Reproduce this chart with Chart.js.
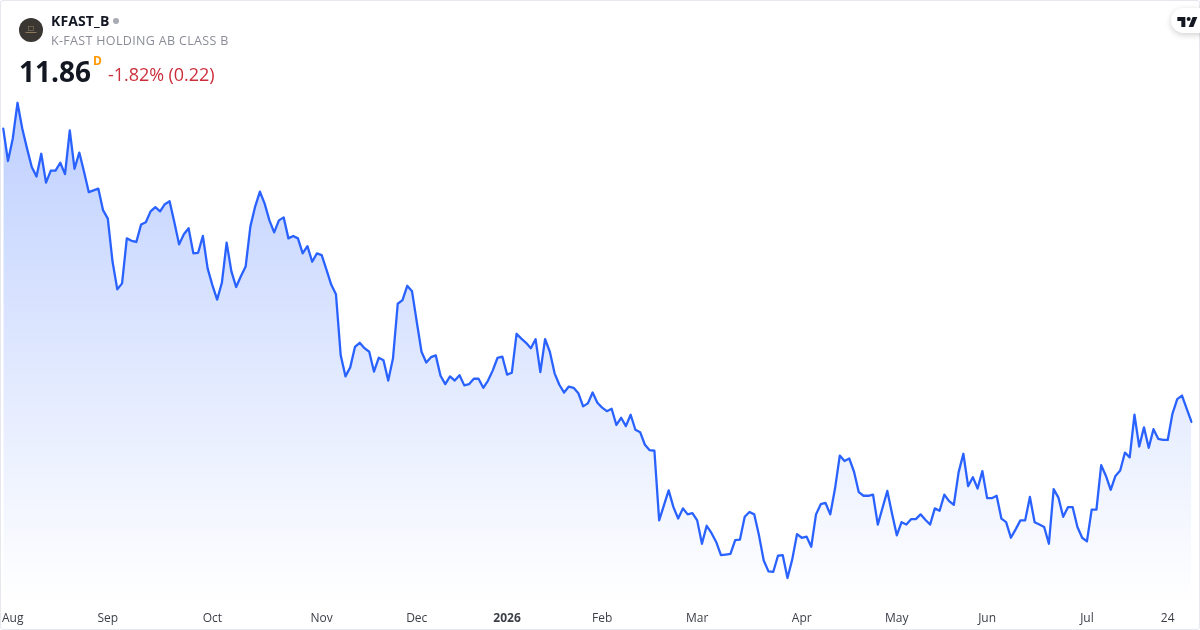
<!DOCTYPE html>
<html lang="en">
<head>
    <meta charset="UTF-8">
    <title>KFAST_B</title>
    <script src="https://cdn.jsdelivr.net/npm/chart.js"></script>
    <style>
        body { margin: 0; background: #fff; font-family: "Open Sans", sans-serif; }
        #wrap { position: relative; width: 1200px; height: 630px; overflow: hidden; }
        #chart { position: absolute; left: 0; top: 0; }
        #frame {
            position: absolute; left: 0; top: 0; width: 1198px; height: 628px;
            border: 1px solid #e6e8ee; border-radius: 3px; pointer-events: none;
        }
        #logo { position: absolute; left: 19px; top: 18px; }
        #symbol { position: absolute; left: 51px; top: 11px; font-size: 14px; font-weight: 700; color: #131722; line-height: 20px; letter-spacing: 0.12px; }
        #dot { position: absolute; left: 113px; top: 18px; width: 6px; height: 6px; border-radius: 50%; background: #a8abb4; }
        #name { position: absolute; left: 51px; top: 31px; font-size: 12.5px; color: #8a8d96; line-height: 20px; letter-spacing: 0.33px; }
        #price { position: absolute; left: 19px; top: 51px; font-size: 28px; font-weight: 700; color: #131722; line-height: 40px; }
        #interval { position: absolute; left: 93px; top: 54px; font-size: 12px; font-weight: 700; color: #ff9800; line-height: 14px; }
        #change { position: absolute; left: 108px; top: 61px; font-size: 18px; color: #cc2f3c; line-height: 26px; letter-spacing: -0.05px; }
        #tv {
            position: absolute; left: 1171px; top: 8px; width: 40px; height: 25px; border-radius: 13px;
            background: #fff; box-shadow: 0 2px 6px rgba(0, 0, 0, 0.18);
        }
        #tv svg { position: absolute; left: 5px; top: 5px; }
    </style>
</head>
<body>
    <div id="wrap">
        <canvas id="chart" width="1200" height="630"></canvas>
        <div id="frame"></div>
        <svg id="logo" width="24" height="24" viewBox="0 0 24 24">
            <circle cx="12" cy="12" r="12" fill="#3a3733"/>
            <rect x="9.5" y="8.5" width="5" height="4" fill="none" stroke="#8d7a5c" stroke-width="0.6"/>
            <rect x="6.5" y="14" width="11" height="1" fill="#8d7a5c"/>
        </svg>
        <div id="symbol">KFAST_B</div>
        <div id="dot"></div>
        <div id="name">K-FAST HOLDING AB CLASS B</div>
        <div id="price">11.86</div>
        <div id="interval">D</div>
        <div id="change">-1.82% (0.22)</div>
        <div id="tv">
            <svg width="24" height="16" viewBox="0 0 36 24"><path fill="#131722" d="M14 6H2v6h6v9h6V6zm12 15h-7l6-15h7l-6 15zm-7-9a3 3 0 1 0 0-6 3 3 0 0 0 0 6z"/></svg>
        </div>
    </div>

    <script>
        // daily closes
        const prices = [
            16.75, 16.21, 16.58, 17.18, 16.75, 16.42, 16.11, 15.95, 16.33, 15.85,
            16.05, 16.05, 16.18, 15.99, 16.72, 16.08, 16.35, 16.03, 15.69, 15.72,
            15.75, 15.39, 15.25, 14.53, 14.07, 14.17, 14.92, 14.88, 14.86, 15.15,
            15.19, 15.37, 15.44, 15.37, 15.49, 15.54, 15.19, 14.82, 14.99, 15.09,
            14.67, 14.68, 14.96, 14.42, 14.14, 13.90, 14.18, 14.85, 14.37, 14.11,
            14.29, 14.45, 15.12, 15.45, 15.70, 15.50, 15.22, 15.02, 15.22, 15.27,
            14.92, 14.96, 14.92, 14.67, 14.79, 14.53, 14.67, 14.64, 14.40, 14.15,
            13.99, 12.97, 12.62, 12.77, 13.11, 13.18, 13.09, 13.03, 12.70, 12.93,
            12.89, 12.55, 12.92, 13.83, 13.89, 14.13, 14.04, 13.53, 13.03, 12.85,
            12.94, 12.97, 12.63, 12.49, 12.62, 12.55, 12.64, 12.47, 12.49, 12.58,
            12.58, 12.43, 12.55, 12.72, 12.93, 12.95, 12.65, 12.68, 13.33, 13.25,
            13.18, 13.09, 13.24, 12.69, 13.24, 13.03, 12.67, 12.48, 12.35, 12.45,
            12.43, 12.34, 12.12, 12.17, 12.35, 12.18, 12.10, 12.04, 12.08, 11.81,
            11.93, 11.79, 11.98, 11.73, 11.69, 11.48, 11.39, 11.38, 10.22, 10.47,
            10.72, 10.44, 10.25, 10.42, 10.32, 10.34, 10.22, 9.83, 10.13, 10.01,
            9.86, 9.64, 9.65, 9.66, 9.89, 9.90, 10.28, 10.36, 10.32, 9.97,
            9.55, 9.37, 9.36, 9.63, 9.64, 9.26, 9.57, 9.99, 9.93, 9.95,
            9.78, 10.32, 10.49, 10.51, 10.32, 10.75, 11.30, 11.21, 11.25, 11.03,
            10.69, 10.63, 10.63, 10.65, 10.15, 10.43, 10.71, 10.33, 9.97, 10.19,
            10.15, 10.24, 10.24, 10.32, 10.23, 10.15, 10.42, 10.38, 10.65, 10.54,
            10.48, 11.02, 11.33, 10.79, 10.94, 10.75, 11.04, 10.59, 10.59, 10.63,
            10.25, 10.19, 9.93, 10.07, 10.22, 10.22, 10.61, 10.19, 10.15, 10.11,
            9.83, 10.74, 10.60, 10.28, 10.44, 10.44, 10.11, 9.93, 9.87, 10.40,
            10.40, 11.14, 10.96, 10.73, 10.96, 11.05, 11.35, 11.27, 11.98, 11.45,
            11.77, 11.43, 11.74, 11.58, 11.56, 11.56, 12.00, 12.24, 12.30, 12.08,
            11.86
        ];
        const tickIndex = [2, 22, 44, 67, 87, 106, 126, 146, 168, 188, 207, 228, 245];
        const tickLabels = ["Aug", "Sep", "Oct", "Nov", "Dec", "2026", "Feb", "Mar", "Apr", "May", "Jun", "Jul", "24"];
        const categories = prices.map((p, i) => i);

        const ctx = document.getElementById("chart").getContext("2d");

        // 위에서 아래로 사라지는 채우기
        const fade = ctx.createLinearGradient(0, 103, 0, 601);
        fade.addColorStop(0, "rgba(41, 98, 255, 0.3)");
        fade.addColorStop(1, "rgba(41, 98, 255, 0)");

        new Chart(ctx, {
            type: "line",
            data: {
                labels: categories,
                datasets: [{
                    data: prices,
                    borderColor: "#2962ff",
                    borderWidth: 2.3,
                    borderJoinStyle: "round",
                    borderCapStyle: "round",
                    backgroundColor: fade,
                    fill: "start",
                    pointRadius: 0,
                    tension: 0
                }]
            },
            options: {
                responsive: false,
                animation: false,
                devicePixelRatio: 1,
                layout: { padding: { left: 1.5, right: 8.5, top: 0, bottom: 0 } },
                plugins: { legend: { display: false }, tooltip: { enabled: false } },
                scales: {
                    x: {
                        grid: { display: false },
                        border: { display: false },
                        afterFit: (scale) => { scale.height = 29; },
                        ticks: {
                            autoSkip: false,
                            maxRotation: 0,
                            padding: 2,
                            color: "#3b3e47",
                            font: (c) => ({
                                family: "Open Sans",
                                size: 12,
                                weight: c.tick && c.tick.value === tickIndex[5] ? "700" : "400"
                            }),
                            callback: (value) => {
                                const k = tickIndex.indexOf(value);
                                return k < 0 ? null : tickLabels[k];
                            }
                        }
                    },
                    y: { display: false, min: 8.876, max: 18.893 }
                }
            }
        });
    </script>
</body>
</html>
